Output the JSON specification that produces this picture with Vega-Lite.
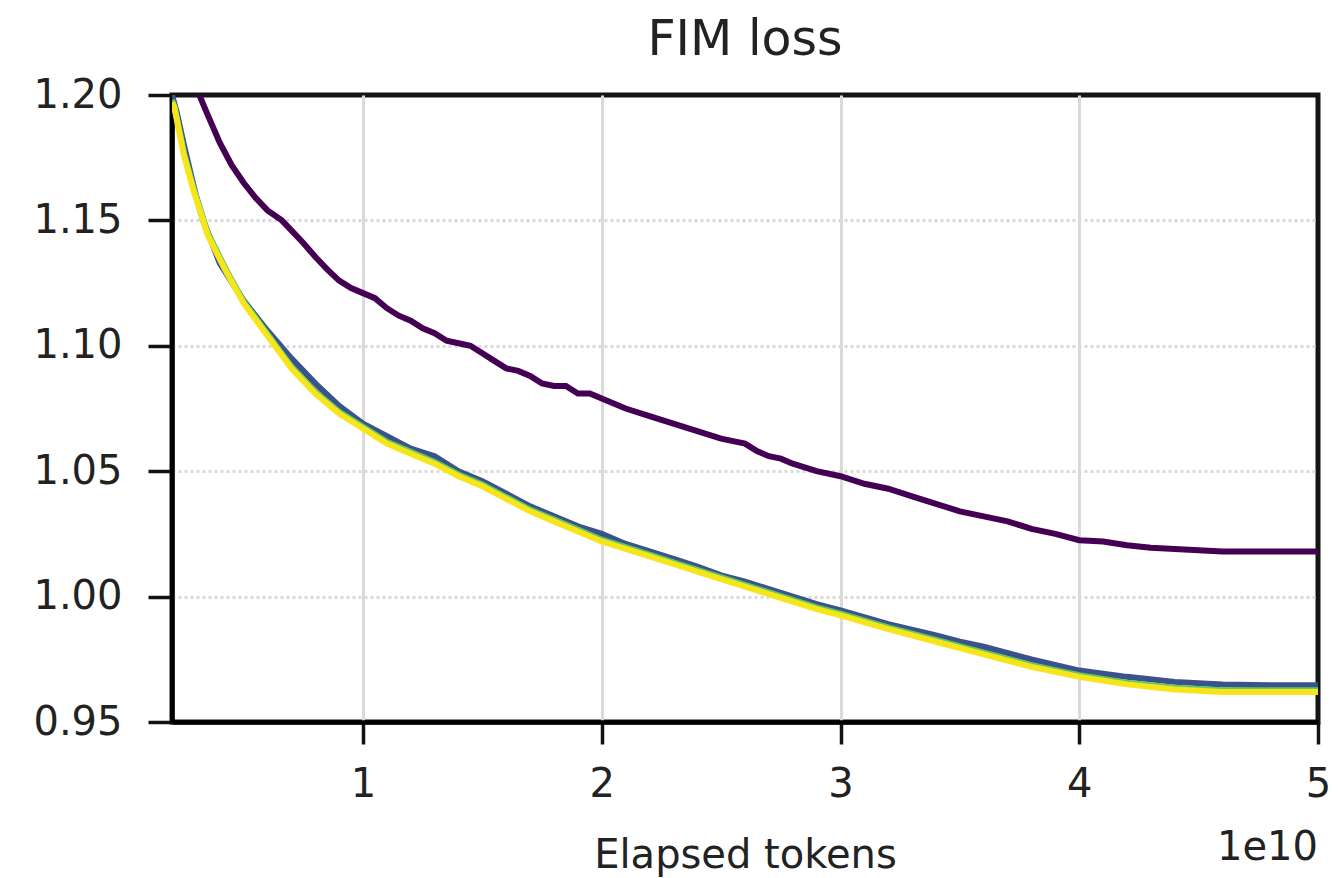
{
  "$schema": "https://vega.github.io/schema/vega-lite/v6.json",
  "autosize": {"type": "none"},
  "width": 1146,
  "height": 627,
  "padding": {"left": 172, "top": 95, "right": 24, "bottom": 156},
  "background": "white",
  "view": {"stroke": "#151515", "strokeWidth": 5},
  "title": {"text": "FIM loss", "font": "DejaVu Sans", "fontSize": 49, "fontWeight": "normal", "color": "#222", "anchor": "middle", "offset": 10},
  "config": {
    "font": "DejaVu Sans",
    "axis": {"labelFont": "DejaVu Sans", "labelFontSize": 40, "labelColor": "#222", "titleFont": "DejaVu Sans", "titleFontSize": 40, "titleFontWeight": "normal", "titleColor": "#222", "domainColor": "#000", "domainWidth": 4.5, "tickColor": "#111", "tickWidth": 3.5, "gridColor": "#dadada", "gridWidth": 3}
  },
  "datasets": {
    "loss": [
      {"run": "A", "tokens_1e10": 0.31, "loss": 1.201},
      {"run": "A", "tokens_1e10": 0.35, "loss": 1.192},
      {"run": "A", "tokens_1e10": 0.40, "loss": 1.181},
      {"run": "A", "tokens_1e10": 0.45, "loss": 1.172},
      {"run": "A", "tokens_1e10": 0.50, "loss": 1.165},
      {"run": "A", "tokens_1e10": 0.55, "loss": 1.159},
      {"run": "A", "tokens_1e10": 0.60, "loss": 1.154},
      {"run": "A", "tokens_1e10": 0.66, "loss": 1.150},
      {"run": "A", "tokens_1e10": 0.70, "loss": 1.146},
      {"run": "A", "tokens_1e10": 0.75, "loss": 1.141},
      {"run": "A", "tokens_1e10": 0.80, "loss": 1.1355},
      {"run": "A", "tokens_1e10": 0.85, "loss": 1.1305},
      {"run": "A", "tokens_1e10": 0.90, "loss": 1.126},
      {"run": "A", "tokens_1e10": 0.95, "loss": 1.123},
      {"run": "A", "tokens_1e10": 1.00, "loss": 1.121},
      {"run": "A", "tokens_1e10": 1.05, "loss": 1.119},
      {"run": "A", "tokens_1e10": 1.10, "loss": 1.115},
      {"run": "A", "tokens_1e10": 1.15, "loss": 1.112},
      {"run": "A", "tokens_1e10": 1.20, "loss": 1.110},
      {"run": "A", "tokens_1e10": 1.25, "loss": 1.107},
      {"run": "A", "tokens_1e10": 1.30, "loss": 1.105},
      {"run": "A", "tokens_1e10": 1.35, "loss": 1.102},
      {"run": "A", "tokens_1e10": 1.40, "loss": 1.101},
      {"run": "A", "tokens_1e10": 1.45, "loss": 1.100},
      {"run": "A", "tokens_1e10": 1.50, "loss": 1.097},
      {"run": "A", "tokens_1e10": 1.55, "loss": 1.094},
      {"run": "A", "tokens_1e10": 1.60, "loss": 1.091},
      {"run": "A", "tokens_1e10": 1.65, "loss": 1.090},
      {"run": "A", "tokens_1e10": 1.70, "loss": 1.088},
      {"run": "A", "tokens_1e10": 1.75, "loss": 1.085},
      {"run": "A", "tokens_1e10": 1.80, "loss": 1.084},
      {"run": "A", "tokens_1e10": 1.85, "loss": 1.084},
      {"run": "A", "tokens_1e10": 1.90, "loss": 1.081},
      {"run": "A", "tokens_1e10": 1.95, "loss": 1.081},
      {"run": "A", "tokens_1e10": 2.00, "loss": 1.079},
      {"run": "A", "tokens_1e10": 2.05, "loss": 1.077},
      {"run": "A", "tokens_1e10": 2.10, "loss": 1.075},
      {"run": "A", "tokens_1e10": 2.20, "loss": 1.072},
      {"run": "A", "tokens_1e10": 2.30, "loss": 1.069},
      {"run": "A", "tokens_1e10": 2.40, "loss": 1.066},
      {"run": "A", "tokens_1e10": 2.50, "loss": 1.063},
      {"run": "A", "tokens_1e10": 2.55, "loss": 1.062},
      {"run": "A", "tokens_1e10": 2.60, "loss": 1.061},
      {"run": "A", "tokens_1e10": 2.65, "loss": 1.058},
      {"run": "A", "tokens_1e10": 2.70, "loss": 1.056},
      {"run": "A", "tokens_1e10": 2.75, "loss": 1.055},
      {"run": "A", "tokens_1e10": 2.80, "loss": 1.053},
      {"run": "A", "tokens_1e10": 2.90, "loss": 1.050},
      {"run": "A", "tokens_1e10": 3.00, "loss": 1.048},
      {"run": "A", "tokens_1e10": 3.10, "loss": 1.045},
      {"run": "A", "tokens_1e10": 3.20, "loss": 1.043},
      {"run": "A", "tokens_1e10": 3.30, "loss": 1.040},
      {"run": "A", "tokens_1e10": 3.40, "loss": 1.037},
      {"run": "A", "tokens_1e10": 3.50, "loss": 1.034},
      {"run": "A", "tokens_1e10": 3.60, "loss": 1.032},
      {"run": "A", "tokens_1e10": 3.70, "loss": 1.030},
      {"run": "A", "tokens_1e10": 3.80, "loss": 1.027},
      {"run": "A", "tokens_1e10": 3.90, "loss": 1.025},
      {"run": "A", "tokens_1e10": 4.00, "loss": 1.0225},
      {"run": "A", "tokens_1e10": 4.10, "loss": 1.022},
      {"run": "A", "tokens_1e10": 4.20, "loss": 1.0205},
      {"run": "A", "tokens_1e10": 4.30, "loss": 1.0195},
      {"run": "A", "tokens_1e10": 4.40, "loss": 1.019},
      {"run": "A", "tokens_1e10": 4.50, "loss": 1.0185},
      {"run": "A", "tokens_1e10": 4.60, "loss": 1.018},
      {"run": "A", "tokens_1e10": 4.80, "loss": 1.018},
      {"run": "A", "tokens_1e10": 5.00, "loss": 1.018},

      {"run": "B", "tokens_1e10": 0.20, "loss": 1.200},
      {"run": "B", "tokens_1e10": 0.22, "loss": 1.193},
      {"run": "B", "tokens_1e10": 0.25, "loss": 1.180},
      {"run": "B", "tokens_1e10": 0.30, "loss": 1.160},
      {"run": "B", "tokens_1e10": 0.33, "loss": 1.150},
      {"run": "B", "tokens_1e10": 0.40, "loss": 1.133},
      {"run": "B", "tokens_1e10": 0.50, "loss": 1.118},
      {"run": "B", "tokens_1e10": 0.60, "loss": 1.106},
      {"run": "B", "tokens_1e10": 0.70, "loss": 1.095},
      {"run": "B", "tokens_1e10": 0.80, "loss": 1.085},
      {"run": "B", "tokens_1e10": 0.90, "loss": 1.076},
      {"run": "B", "tokens_1e10": 1.00, "loss": 1.069},
      {"run": "B", "tokens_1e10": 1.10, "loss": 1.064},
      {"run": "B", "tokens_1e10": 1.20, "loss": 1.059},
      {"run": "B", "tokens_1e10": 1.30, "loss": 1.056},
      {"run": "B", "tokens_1e10": 1.40, "loss": 1.050},
      {"run": "B", "tokens_1e10": 1.45, "loss": 1.048},
      {"run": "B", "tokens_1e10": 1.50, "loss": 1.046},
      {"run": "B", "tokens_1e10": 1.60, "loss": 1.041},
      {"run": "B", "tokens_1e10": 1.70, "loss": 1.036},
      {"run": "B", "tokens_1e10": 1.80, "loss": 1.032},
      {"run": "B", "tokens_1e10": 1.90, "loss": 1.028},
      {"run": "B", "tokens_1e10": 2.00, "loss": 1.025},
      {"run": "B", "tokens_1e10": 2.10, "loss": 1.021},
      {"run": "B", "tokens_1e10": 2.20, "loss": 1.018},
      {"run": "B", "tokens_1e10": 2.30, "loss": 1.015},
      {"run": "B", "tokens_1e10": 2.40, "loss": 1.012},
      {"run": "B", "tokens_1e10": 2.50, "loss": 1.0085},
      {"run": "B", "tokens_1e10": 2.60, "loss": 1.006},
      {"run": "B", "tokens_1e10": 2.70, "loss": 1.003},
      {"run": "B", "tokens_1e10": 2.80, "loss": 1.000},
      {"run": "B", "tokens_1e10": 2.90, "loss": 0.997},
      {"run": "B", "tokens_1e10": 3.00, "loss": 0.9945},
      {"run": "B", "tokens_1e10": 3.20, "loss": 0.989},
      {"run": "B", "tokens_1e10": 3.40, "loss": 0.9845},
      {"run": "B", "tokens_1e10": 3.50, "loss": 0.982},
      {"run": "B", "tokens_1e10": 3.60, "loss": 0.980},
      {"run": "B", "tokens_1e10": 3.80, "loss": 0.975},
      {"run": "B", "tokens_1e10": 4.00, "loss": 0.9705},
      {"run": "B", "tokens_1e10": 4.20, "loss": 0.968},
      {"run": "B", "tokens_1e10": 4.40, "loss": 0.966},
      {"run": "B", "tokens_1e10": 4.60, "loss": 0.965},
      {"run": "B", "tokens_1e10": 4.80, "loss": 0.9647},
      {"run": "B", "tokens_1e10": 5.00, "loss": 0.9647},

      {"run": "C", "tokens_1e10": 0.20, "loss": 1.198},
      {"run": "C", "tokens_1e10": 0.21, "loss": 1.1955},
      {"run": "C", "tokens_1e10": 0.25, "loss": 1.177},
      {"run": "C", "tokens_1e10": 0.29, "loss": 1.163},
      {"run": "C", "tokens_1e10": 0.35, "loss": 1.145},
      {"run": "C", "tokens_1e10": 0.43, "loss": 1.1297},
      {"run": "C", "tokens_1e10": 0.50, "loss": 1.1177},
      {"run": "C", "tokens_1e10": 0.60, "loss": 1.1047},
      {"run": "C", "tokens_1e10": 0.70, "loss": 1.0917},
      {"run": "C", "tokens_1e10": 0.80, "loss": 1.0817},
      {"run": "C", "tokens_1e10": 0.90, "loss": 1.0737},
      {"run": "C", "tokens_1e10": 1.00, "loss": 1.0677},
      {"run": "C", "tokens_1e10": 1.10, "loss": 1.0617},
      {"run": "C", "tokens_1e10": 1.20, "loss": 1.0577},
      {"run": "C", "tokens_1e10": 1.30, "loss": 1.0537},
      {"run": "C", "tokens_1e10": 1.40, "loss": 1.0487},
      {"run": "C", "tokens_1e10": 1.50, "loss": 1.0447},
      {"run": "C", "tokens_1e10": 1.60, "loss": 1.0397},
      {"run": "C", "tokens_1e10": 1.70, "loss": 1.0347},
      {"run": "C", "tokens_1e10": 1.80, "loss": 1.0307},
      {"run": "C", "tokens_1e10": 1.90, "loss": 1.0267},
      {"run": "C", "tokens_1e10": 2.00, "loss": 1.0227},
      {"run": "C", "tokens_1e10": 2.10, "loss": 1.0197},
      {"run": "C", "tokens_1e10": 2.20, "loss": 1.0167},
      {"run": "C", "tokens_1e10": 2.30, "loss": 1.0137},
      {"run": "C", "tokens_1e10": 2.40, "loss": 1.0107},
      {"run": "C", "tokens_1e10": 2.50, "loss": 1.0077},
      {"run": "C", "tokens_1e10": 2.60, "loss": 1.0047},
      {"run": "C", "tokens_1e10": 2.70, "loss": 1.0017},
      {"run": "C", "tokens_1e10": 2.80, "loss": 0.9987},
      {"run": "C", "tokens_1e10": 2.90, "loss": 0.9957},
      {"run": "C", "tokens_1e10": 3.00, "loss": 0.9932},
      {"run": "C", "tokens_1e10": 3.20, "loss": 0.9877},
      {"run": "C", "tokens_1e10": 3.40, "loss": 0.9827},
      {"run": "C", "tokens_1e10": 3.60, "loss": 0.9777},
      {"run": "C", "tokens_1e10": 3.80, "loss": 0.9727},
      {"run": "C", "tokens_1e10": 4.00, "loss": 0.9687},
      {"run": "C", "tokens_1e10": 4.20, "loss": 0.9657},
      {"run": "C", "tokens_1e10": 4.40, "loss": 0.9637},
      {"run": "C", "tokens_1e10": 4.60, "loss": 0.9627},
      {"run": "C", "tokens_1e10": 4.80, "loss": 0.9627},
      {"run": "C", "tokens_1e10": 5.00, "loss": 0.9627},

      {"run": "D", "tokens_1e10": 0.20, "loss": 1.197},
      {"run": "D", "tokens_1e10": 0.21, "loss": 1.195},
      {"run": "D", "tokens_1e10": 0.25, "loss": 1.176},
      {"run": "D", "tokens_1e10": 0.29, "loss": 1.162},
      {"run": "D", "tokens_1e10": 0.35, "loss": 1.144},
      {"run": "D", "tokens_1e10": 0.43, "loss": 1.129},
      {"run": "D", "tokens_1e10": 0.50, "loss": 1.117},
      {"run": "D", "tokens_1e10": 0.60, "loss": 1.104},
      {"run": "D", "tokens_1e10": 0.70, "loss": 1.091},
      {"run": "D", "tokens_1e10": 0.80, "loss": 1.081},
      {"run": "D", "tokens_1e10": 0.90, "loss": 1.073},
      {"run": "D", "tokens_1e10": 1.00, "loss": 1.067},
      {"run": "D", "tokens_1e10": 1.10, "loss": 1.061},
      {"run": "D", "tokens_1e10": 1.20, "loss": 1.057},
      {"run": "D", "tokens_1e10": 1.30, "loss": 1.053},
      {"run": "D", "tokens_1e10": 1.40, "loss": 1.048},
      {"run": "D", "tokens_1e10": 1.50, "loss": 1.044},
      {"run": "D", "tokens_1e10": 1.60, "loss": 1.039},
      {"run": "D", "tokens_1e10": 1.70, "loss": 1.034},
      {"run": "D", "tokens_1e10": 1.80, "loss": 1.030},
      {"run": "D", "tokens_1e10": 1.90, "loss": 1.026},
      {"run": "D", "tokens_1e10": 2.00, "loss": 1.022},
      {"run": "D", "tokens_1e10": 2.10, "loss": 1.019},
      {"run": "D", "tokens_1e10": 2.20, "loss": 1.016},
      {"run": "D", "tokens_1e10": 2.30, "loss": 1.013},
      {"run": "D", "tokens_1e10": 2.40, "loss": 1.010},
      {"run": "D", "tokens_1e10": 2.50, "loss": 1.007},
      {"run": "D", "tokens_1e10": 2.60, "loss": 1.004},
      {"run": "D", "tokens_1e10": 2.70, "loss": 1.001},
      {"run": "D", "tokens_1e10": 2.80, "loss": 0.998},
      {"run": "D", "tokens_1e10": 2.90, "loss": 0.995},
      {"run": "D", "tokens_1e10": 3.00, "loss": 0.9925},
      {"run": "D", "tokens_1e10": 3.20, "loss": 0.987},
      {"run": "D", "tokens_1e10": 3.40, "loss": 0.982},
      {"run": "D", "tokens_1e10": 3.60, "loss": 0.977},
      {"run": "D", "tokens_1e10": 3.80, "loss": 0.972},
      {"run": "D", "tokens_1e10": 4.00, "loss": 0.968},
      {"run": "D", "tokens_1e10": 4.20, "loss": 0.965},
      {"run": "D", "tokens_1e10": 4.40, "loss": 0.963},
      {"run": "D", "tokens_1e10": 4.60, "loss": 0.962},
      {"run": "D", "tokens_1e10": 4.80, "loss": 0.962},
      {"run": "D", "tokens_1e10": 5.00, "loss": 0.962}
    ],
    "unit": [{"label": "1e10", "tokens_1e10": 5, "loss": 0.95}]
  },
  "layer": [
    {
      "data": {"name": "loss"},
      "mark": {"type": "line", "strokeWidth": 6, "clip": true, "interpolate": "linear"},
      "encoding": {
        "x": {"field": "tokens_1e10", "type": "quantitative", "scale": {"domain": [0.2, 5], "nice": false, "zero": false},
              "axis": {"title": "Elapsed tokens", "values": [1, 2, 3, 4, 5], "format": "d", "tickSize": 22, "labelPadding": 20, "titlePadding": 31, "grid": true, "labelFlush": false,
                       "gridOpacity": {"condition": {"test": "datum.value >= 5", "value": 0}, "value": 1}}},
        "y": {"field": "loss", "type": "quantitative", "scale": {"domain": [0.95, 1.2], "nice": false, "zero": false},
              "axis": {"title": null, "values": [0.95, 1.0, 1.05, 1.1, 1.15, 1.2], "format": ".2f", "tickSize": 24, "labelPadding": 26, "grid": true, "gridDash": [3, 3], "labelFlush": false,
                       "gridOpacity": {"condition": {"test": "datum.value >= 1.19 || datum.value <= 0.96", "value": 0}, "value": 1}}},
        "color": {"field": "run", "type": "nominal", "legend": null,
                  "scale": {"domain": ["A", "B", "C", "D"], "range": ["#440154", "#3b528b", "#5ec962", "#f7e51c"]}}
      }
    },
    {
      "data": {"name": "unit"},
      "mark": {"type": "text", "align": "right", "baseline": "alphabetic", "dy": 138, "fontSize": 40, "font": "DejaVu Sans", "color": "#222", "clip": false},
      "encoding": {
        "x": {"field": "tokens_1e10", "type": "quantitative"},
        "y": {"field": "loss", "type": "quantitative"},
        "text": {"field": "label"}
      }
    }
  ]
}
